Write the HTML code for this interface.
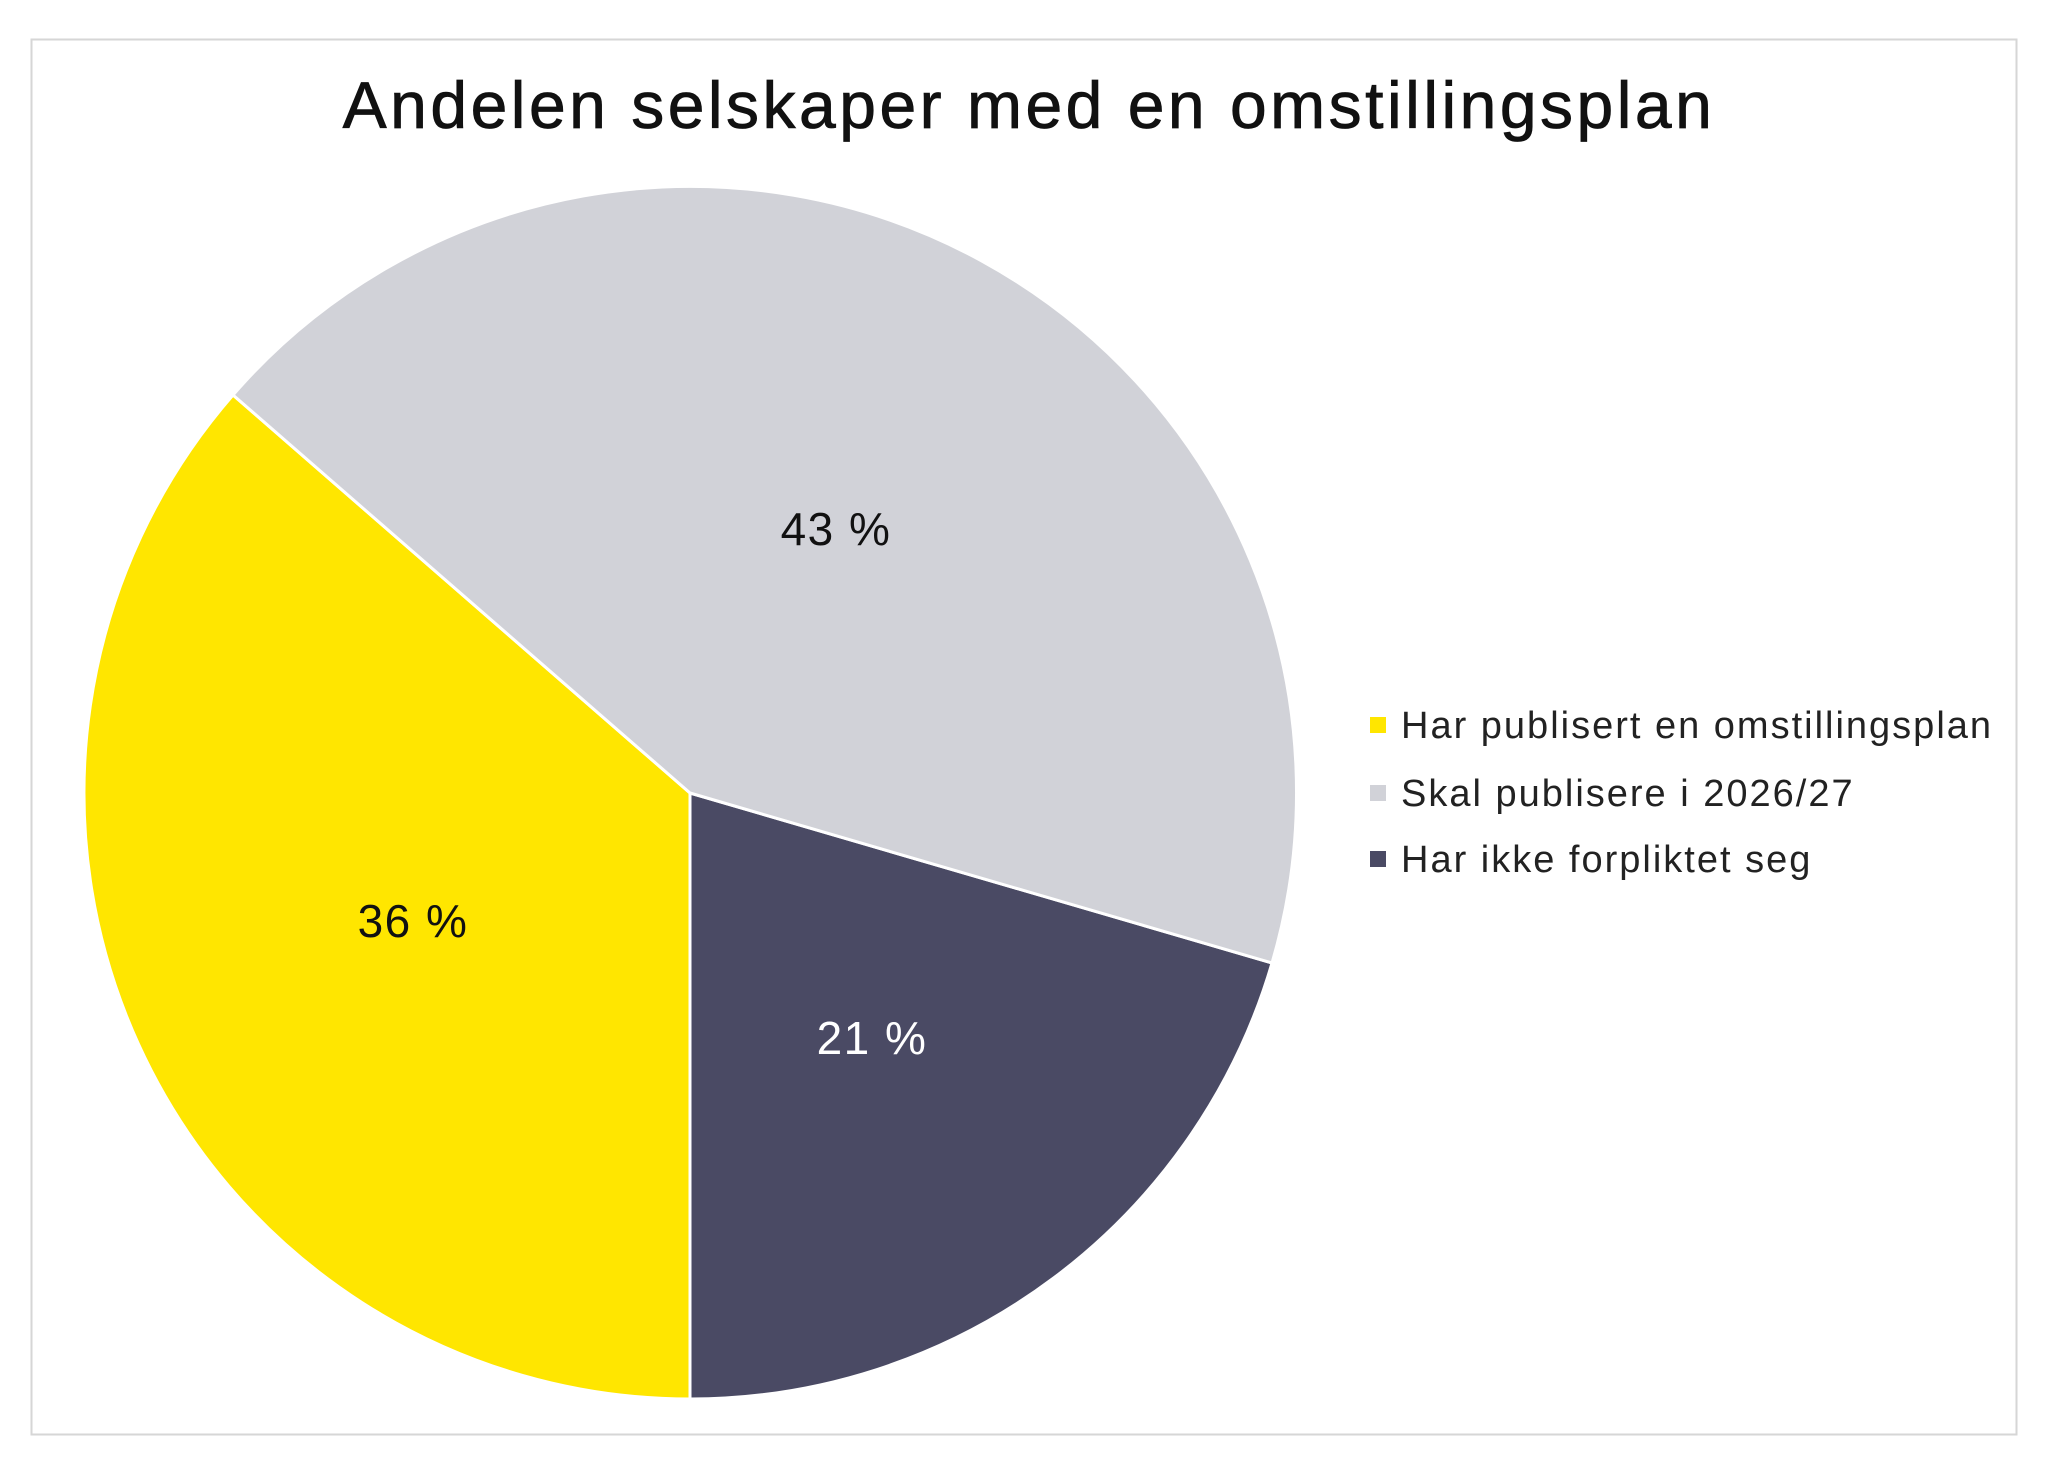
<!DOCTYPE html>
<html><head><meta charset="utf-8"><style>
html,body{margin:0;padding:0;background:#fff;}
svg{display:block;}
text{font-family:"Liberation Sans","DejaVu Sans",sans-serif;}
</style></head><body>
<svg width="2048" height="1466" viewBox="0 0 2048 1466">
<rect x="0" y="0" width="2048" height="1466" fill="#fff"/>
<rect x="31.5" y="39.5" width="1985" height="1395" fill="none" stroke="#d6d6d6" stroke-width="2"/>
<text x="1029" y="128" font-size="66" letter-spacing="3.5" text-anchor="middle" fill="#111" stroke="#111" stroke-width="0.8">Andelen selskaper med en omstillingsplan</text>
<g stroke="#fff" stroke-width="3" stroke-linejoin="round">
<path d="M690,793 L1272,963 A606,606 0 0 1 690,1399 Z" fill="#4a4a64"/>
<path d="M690,793 L690,1399 A606,606 0 0 1 233,395 Z" fill="#ffe600"/>
<path d="M690,793 L233,395 A606,606 0 0 1 1272,963 Z" fill="#d1d2d8"/>
</g>
<text x="836" y="545" font-size="46" letter-spacing="1.5" text-anchor="middle" fill="#111">43 %</text>
<text x="413" y="937" font-size="46" letter-spacing="1.5" text-anchor="middle" fill="#111">36 %</text>
<text x="872" y="1054" font-size="46" letter-spacing="1.5" text-anchor="middle" fill="#fff">21 %</text>
<rect x="1370" y="717" width="16" height="16" fill="#ffe600"/>
<rect x="1370" y="785" width="16" height="16" fill="#d1d2d8"/>
<rect x="1370" y="851" width="16" height="16" fill="#4a4a64"/>
<text x="1401" y="738" font-size="38" letter-spacing="2" fill="#222">Har publisert en omstillingsplan</text>
<text x="1401" y="806" font-size="38" letter-spacing="2" fill="#222">Skal publisere i 2026/27</text>
<text x="1401" y="872" font-size="38" letter-spacing="2" fill="#222">Har ikke forpliktet seg</text>
</svg>
</body></html>
